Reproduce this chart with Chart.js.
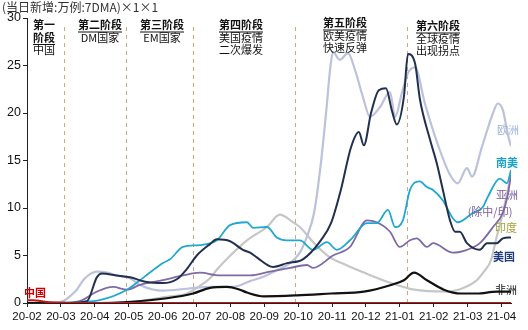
<!DOCTYPE html>
<html lang="zh">
<head>
<meta charset="utf-8">
<script src="https://cdn.jsdelivr.net/npm/chart.js@4.4.1/dist/chart.umd.min.js"></script>
<style>
html, body { margin: 0; padding: 0; background: #fff; }
#grafico { display: block; }
</style>
</head>
<body>
<canvas id="grafico" width="528" height="330"></canvas>
<script>
// eje x: meses desde 2020-02 (0 = 20-02, 14 = 21-04)
const meses = ['20-02','20-03','20-04','20-05','20-06','20-07','20-08','20-09','20-10','20-11','20-12','21-01','21-02','21-03','21-04'];
const ticksY = [0, 5, 10, 15, 20, 25, 30];

// [mes, 万例]
const china = [[0,0.3],[0.2,0.3],[0.4,0.22],[0.6,0.1],[0.8,0.05],[1,0.03],[1.5,0.01],[14.28,0.01]];

const africa = [[0,0],[2.15,0],[2.95,0.1],[4.13,0.5],[4.9,1.0],[5.4,1.6],[5.9,1.7],[6.28,1.4],[6.49,1.1],[6.99,0.7],
  [7.96,0.8],[8.97,1.0],[9.94,1.2],[10.74,1.9],[11.12,2.4],[11.42,3.2],[11.8,2.4],[12.3,1.4],[12.8,1.0],[13.27,1.0],[13.86,1.2],[14.28,1.2]];

const usa = [[0,0],[1.2,0.02],[1.77,0.2],[2.06,2.7],[2.21,3.1],[2.65,2.9],[3.04,2.7],[3.54,2.2],[4.01,2.1],[4.42,2.5],
  [4.72,3.6],[5.01,5.0],[5.4,6.2],[5.6,6.7],[5.99,6.5],[6.37,5.6],[6.58,5.3],[6.78,4.8],[7.26,3.8],[7.67,4.2],[8.14,4.6],
  [8.67,6.6],[8.97,8.4],[9.26,11.9],[9.56,16.4],[9.79,18.0],[9.94,16.6],[10.15,20],[10.38,22.4],[10.59,22.6],[10.77,20.2],
  [10.91,18.8],[11.12,21.7],[11.24,26.2],[11.45,25.2],[11.59,21.5],[11.89,17.2],[12.09,14.7],[12.27,11.9],[12.48,8.7],
  [12.63,7.5],[12.77,7.5],[12.98,6.3],[13.36,5.6],[13.57,6.3],[13.86,6.3],[14.04,6.8],[14.28,6.9]];

const sudamerica = [[0,0],[0.97,0],[1.56,0.1],[2.15,0.3],[2.95,1.4],[3.48,2.8],[4.01,4.2],[4.22,4.6],[4.6,5.9],[5.1,6.1],
  [5.6,6.6],[5.99,8.2],[6.49,8.5],[6.67,7.9],[7.08,8.0],[7.37,6.9],[7.67,6.6],[8.05,6.6],[8.44,5.6],[8.85,6.4],[9.14,5.6],
  [9.53,6.6],[10.03,8.4],[10.32,8.4],[10.65,9.8],[10.86,8.0],[11.09,8.7],[11.3,11.9],[11.59,12.8],[11.8,12.2],[11.98,11.9],
  [12.27,10.8],[12.57,8.9],[12.71,8.5],[13.16,9.5],[13.45,10.1],[13.6,11.2],[13.95,13.1],[14.16,12.6],[14.28,14]];

const asia = [[0,0],[0.97,0],[1.56,0.2],[2.06,1.2],[2.54,1.7],[2.95,1.4],[3.33,1.9],[4.01,2.4],[4.6,2.9],[5.1,3.2],
  [5.69,2.9],[6.58,2.9],[7.17,3.3],[7.76,3.7],[8.26,4.0],[8.44,3.7],[9.03,5.0],[9.53,5.9],[10.03,8.7],[10.32,8.5],
  [10.71,7.5],[11.0,5.9],[11.3,6.6],[11.5,6.8],[11.8,5.9],[11.98,6.3],[12.57,5.3],[12.98,5.6],[13.36,6.3],[13.75,8.0],
  [14.04,9.5],[14.19,11.5],[14.28,13.5]];

const europa = [[0,0],[0.97,0.1],[1.42,1.2],[1.71,2.6],[2.06,3.3],[2.36,3.2],[2.65,2.9],[3.04,2.6],[3.33,1.9],[4.01,1.3],
  [4.72,1.5],[5.4,1.7],[6.08,1.7],[6.58,2.3],[6.99,2.8],[7.46,3.6],[7.76,4.2],[8.05,5.3],[8.26,7],[8.47,9.5],[8.67,14.7],
  [8.85,21],[8.94,24.5],[9.03,26.4],[9.23,25.6],[9.47,26.3],[9.68,24.5],[9.91,21.7],[10.12,19.6],[10.41,20.6],[10.71,22.2],
  [10.86,19.6],[11.06,22.1],[11.24,24.2],[11.45,24.8],[11.74,21],[12.09,17],[12.48,13.5],[12.71,12.6],[12.98,14.2],
  [13.13,13.3],[13.42,16.4],[13.75,20],[13.89,21],[14.04,20.3],[14.19,17.7],[14.28,16.5]];

const india = [[0,0],[2.15,0],[3.13,0.1],[4.01,0.6],[4.72,1.0],[5.1,1.8],[5.4,2.6],[5.6,3.5],[6.0,5.0],[6.49,6.6],
  [7.08,8.0],[7.46,9.3],[7.85,8.5],[8.05,8.0],[8.47,6.3],[8.94,4.8],[9.41,4.0],[9.94,3.2],[10.74,2.1],[11.42,1.4],
  [12.39,1.2],[12.89,1.6],[13.27,2.4],[13.48,3.3],[13.69,4.5],[13.86,7.0],[14.04,9.5],[14.19,12],[14.28,13.5]];

// fechas de los cortes de cada fase
const cortesFase = [1.09, 2.93, 4.9, 7.9, 11.21];
const fases = [
  ['第一', '阶段', '中国'],
  ['第二阶段', 'DM国家'],
  ['第三阶段', 'EM国家'],
  ['第四阶段', '美国疫情', '二次爆发'],
  ['第五阶段', '欧美疫情', '快速反弹'],
  ['第六阶段', '全球疫情', '出现拐点']
];

const series = [
  { label: '中国', data: china, color: '#c81414', ancho: 2 },
  { label: '非洲', data: africa, color: '#111111', ancho: 2.2 },
  { label: '美国', data: usa, color: '#22304f', ancho: 2 },
  { label: '南美', data: sudamerica, color: '#22a8d0', ancho: 1.8 },
  { label: '亚洲(除中/印)', data: asia, color: '#7f6aa5', ancho: 1.8 },
  { label: '欧洲', data: europa, color: '#bcc1dc', ancho: 2.2 },
  { label: '印度', data: india, color: '#c6c6c6', ancho: 2.2 }
];

const CJK = '"Noto Sans CJK SC", "Noto Sans", sans-serif';

const faseX = [44, 100, 162, 241, 345, 438];
const faseY = [25, 25, 25, 25, 23, 26];

const etiquetas = [
  { t: '欧洲', x: 508, y: 130, c: '#9fb2d8', b: false },
  { t: '南美', x: 507, y: 163, c: '#1aa2c8', b: true },
  { t: '亚洲', x: 507, y: 195, c: '#7a5ea0', b: false },
  { t: '(除中/印)', x: 490, y: 212, c: '#7a5ea0', b: false },
  { t: '印度', x: 506, y: 228, c: '#a3a33a', b: false },
  { t: '美国', x: 504, y: 257, c: '#1f3d7a', b: true },
  { t: '非洲', x: 506, y: 290, c: '#111111', b: false },
  { t: '中国', x: 35, y: 293, c: '#d00000', b: true }
];

const pluginAnotaciones = {
  id: 'anotaciones',
  beforeDatasetsDraw(chart) {
    const { ctx, chartArea, scales } = chart;
    ctx.save();
    ctx.strokeStyle = '#c9aa86';
    ctx.lineWidth = 1;
    ctx.setLineDash([4, 4]);
    cortesFase.forEach(m => {
      const x = Math.round(scales.x.getPixelForValue(m)) + 0.5;
      ctx.beginPath();
      ctx.moveTo(x, chartArea.top + 9);
      ctx.lineTo(x, chartArea.bottom);
      ctx.stroke();
    });
    ctx.restore();
  },
  afterDraw(chart) {
    const ctx = chart.ctx;
    ctx.save();
    ctx.textBaseline = 'middle';
    ctx.textAlign = 'left';
    ctx.fillStyle = '#333';
    ctx.font = '12px ' + CJK;
    ctx.fillText('(当日新增:万例:7DMA)×1×1', 2, 7);

    ctx.textAlign = 'center';
    fases.forEach((lineas, i) => {
      lineas.forEach((txt, j) => {
        const y = faseY[i] + j * 12.5;
        const titulo = i === 0 ? j < 2 : j === 0;
        ctx.font = (titulo ? 'bold ' : '') + '11px ' + CJK;
        ctx.fillStyle = '#111';
        ctx.fillText(txt, faseX[i], y);
        if (titulo && (i > 0 || j === 1)) {
          const w = ctx.measureText(txt).width;
          ctx.fillRect(faseX[i] - w / 2, y + 6.5, w, 1);
        }
      });
    });

    etiquetas.forEach(e => {
      ctx.font = (e.b ? 'bold ' : '') + '11px ' + CJK;
      ctx.fillStyle = e.c;
      ctx.fillText(e.t, e.x, e.y);
    });
    ctx.restore();
  }
};

new Chart(document.getElementById('grafico'), {
  type: 'line',
  data: {
    datasets: series.map(s => ({
      label: s.label,
      data: s.data.map(p => ({ x: p[0], y: p[1] })),
      borderColor: s.color,
      borderWidth: s.ancho,
      pointRadius: 0,
      fill: false,
      cubicInterpolationMode: 'monotone'
    }))
  },
  options: {
    responsive: false,
    devicePixelRatio: 1,
    animation: false,
    layout: { padding: { top: 18, right: 17, left: 0, bottom: 0 } },
    plugins: { legend: { display: false }, tooltip: { enabled: false } },
    scales: {
      x: {
        type: 'linear',
        min: 0,
        max: 14.28,
        afterFit: s => { s.height = 27; },
        afterBuildTicks: s => { s.ticks = meses.map((m, i) => ({ value: i })); },
        grid: { drawOnChartArea: false, drawTicks: true, tickLength: 4, color: '#222' },
        border: { color: '#222', width: 1 },
        ticks: {
          autoSkip: false,
          maxRotation: 0,
          padding: 3,
          color: '#111',
          font: { family: '"Liberation Sans", Arial, sans-serif', size: 11.5 },
          callback: v => meses[v]
        }
      },
      y: {
        min: 0,
        max: 30,
        afterFit: s => { s.width = 27; },
        afterBuildTicks: s => { s.ticks = ticksY.map(v => ({ value: v })); },
        grid: { drawOnChartArea: false, drawTicks: true, tickLength: 4, color: '#222' },
        border: { color: '#222', width: 1 },
        ticks: {
          padding: 2,
          color: '#111',
          font: { family: '"Liberation Sans", Arial, sans-serif', size: 12.5 }
        }
      }
    }
  },
  plugins: [pluginAnotaciones]
});
</script>
</body>
</html>
